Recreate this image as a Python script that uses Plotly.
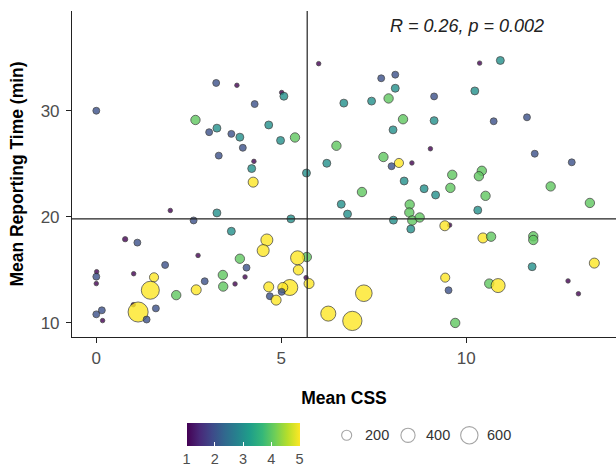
import plotly.graph_objects as go

# ---- data ----
mean_css = [0.00, 2.68, 3.24, 3.80, 3.05, 3.26, 3.65, 3.88, 3.96, 3.31,
            4.28, 4.26, 4.20, 4.24, 4.66, 4.98, 5.37, 5.01, 5.07, 5.68,
            6.01, 10.36, 10.92, 7.70, 8.08, 8.08, 6.69, 7.44, 7.90, 9.13,
            10.23, 8.29, 9.13, 8.02, 10.74, 11.64, 6.49, 9.03, 7.76, 8.18,
            7.98, 8.53, 6.23, 11.85, 12.85, 9.62, 10.42, 10.34, 8.32, 8.86,
            9.57, 12.28, 7.18, 9.17, 10.52, 6.62, 6.79, 8.47, 8.46, 10.31,
            13.34, 8.03, 8.54, 8.74, 8.50, 9.55, 9.42, 10.45, 10.67, 11.81,
            11.81, 5.69, 5.44, 5.46, 5.67, 5.75, 13.46, 11.78, 9.43, 9.52,
            10.62, 10.86, 12.75, 13.03, 7.23, 6.27, 6.92, 9.70, 2.00, 3.26,
            2.63, 5.26, 3.65, 0.78, 1.11, 4.61, 4.51, 2.75, 3.88, 0.01,
            0.00, 0.00, 1.01, 1.86, 4.06, 1.56, 3.42, 4.02, 2.93, 3.43,
            3.75, 1.46, 2.16, 2.70, 4.66, 5.23, 5.04, 4.69, 5.01, 4.86,
            1.00, 1.13, 1.61, 0.00, 0.15, 1.36, 0.17]
mean_rt = [30.00, 29.13, 32.62, 32.40, 27.98, 28.36, 27.82, 27.51, 26.51, 25.77,
           30.63, 25.23, 24.55, 23.27, 28.66, 27.20, 27.48, 31.72, 31.37, 24.13,
           34.44, 34.49, 34.74, 33.06, 33.40, 32.12, 30.72, 30.91, 31.16, 31.35,
           31.87, 29.20, 29.07, 28.20, 29.01, 29.38, 26.70, 26.42, 25.64, 25.08,
           24.77, 25.08, 25.05, 25.95, 25.14, 23.96, 24.34, 23.83, 23.38, 22.65,
           22.73, 22.87, 22.34, 22.06, 21.98, 21.19, 20.26, 21.16, 20.41, 20.63,
           21.31, 19.69, 19.66, 19.94, 18.85, 19.22, 19.16, 18.01, 18.13, 18.17,
           17.82, 16.21, 16.14, 14.99, 14.27, 13.71, 15.64, 15.30, 14.27, 13.08,
           13.71, 13.52, 13.96, 12.75, 12.80, 10.88, 10.19, 10.00, 20.60, 20.37,
           19.66, 19.81, 18.64, 17.89, 17.57, 17.82, 16.82, 16.36, 16.05, 14.83,
           14.36, 13.71, 14.64, 15.46, 15.21, 14.30, 14.52, 14.34, 13.93, 13.43,
           13.68, 13.08, 12.62, 13.12, 13.40, 13.34, 13.34, 12.52, 12.93, 12.15,
           11.72, 11.03, 11.37, 10.81, 11.19, 10.32, 10.22]
severity = [2, 4, 2, 1, 2, 3, 2, 3, 2, 2,
            2, 1, 3, 5, 3, 3, 4, 1, 3, 3,
            1, 1, 3, 2, 2, 3, 3, 3, 4, 2,
            3, 4, 3, 3, 2, 2, 4, 1, 4, 5,
            2, 1, 3, 2, 2, 4, 4, 4, 3, 3,
            4, 4, 4, 3, 4, 3, 3, 4, 4, 3,
            4, 3, 4, 4, 3, 1, 5, 5, 4, 4,
            4, 4, 5, 5, 1, 5, 5, 3, 5, 2,
            4, 5, 1, 1, 5, 5, 5, 4, 1, 3,
            2, 3, 3, 1, 2, 5, 5, 1, 4, 1,
            2, 1, 1, 2, 2, 5, 4, 1, 2, 4,
            1, 5, 4, 5, 5, 5, 5, 2, 2, 5,
            1, 5, 2, 2, 2, 2, 1]
n_reports = [95, 175, 95, 40, 95, 125, 95, 125, 95, 95,
             95, 40, 125, 200, 125, 125, 175, 40, 125, 125,
             40, 40, 125, 95, 95, 125, 125, 125, 175, 95,
             125, 175, 125, 125, 95, 95, 175, 40, 175, 165,
             95, 40, 125, 95, 95, 175, 175, 175, 125, 125,
             175, 175, 175, 125, 175, 125, 125, 175, 175, 125,
             175, 125, 175, 175, 125, 40, 200, 200, 175, 175,
             175, 175, 390, 200, 40, 200, 200, 125, 165, 95,
             175, 390, 40, 40, 550, 450, 740, 175, 40, 125,
             95, 125, 125, 55, 95, 286, 286, 40, 175, 40,
             95, 40, 40, 95, 95, 165, 175, 40, 95, 175,
             40, 643, 175, 200, 200, 508, 200, 95, 95, 200,
             40, 800, 95, 95, 95, 95, 40]

size_legend_vals = [200, 400, 600]
colorbar_ticks = [1, 2, 3, 4, 5]
mean_css_line = 5.70
mean_rt_line = 19.81
stat_label = "R = 0.26, p = 0.002"

FONT = "Liberation Sans, Arial, Helvetica, sans-serif"
SIZEREF = 3.97

W, H = 616, 471

fig = go.Figure()

fig.add_trace(go.Scatter(
    x=mean_css, y=mean_rt, mode="markers",
    marker=dict(
        color=severity, colorscale="Viridis", cmin=1, cmax=5,
        size=n_reports, sizemode="area", sizeref=SIZEREF,
        opacity=0.8,
        line=dict(color="#222222", width=0.8),
        colorbar=dict(
            orientation="h",
            x=243 / W, xanchor="center",
            y=(H - 426.5) / H, yanchor="top",
            len=113, lenmode="pixels",
            thickness=23, thicknessmode="pixels",
            xpad=0, ypad=0,
            outlinewidth=0,
            tickvals=colorbar_ticks,
            ticktext=[str(t) for t in colorbar_ticks],
            ticks="inside", ticklen=4, tickcolor="white", tickwidth=1,
            tickfont=dict(family=FONT, size=14.5, color="#4d4d4d"),
        ),
    ),
    showlegend=False, hoverinfo="x+y",
    xaxis="x", yaxis="y",
))

# size legend (index positions on a hidden axis)
legend_pos = list(range(len(size_legend_vals)))
fig.add_trace(go.Scatter(
    x=legend_pos, y=[0] * len(size_legend_vals),
    mode="markers",
    marker=dict(size=size_legend_vals, sizemode="area", sizeref=SIZEREF,
                color="white", line=dict(color="#7f7f7f", width=1.1)),
    showlegend=False, hoverinfo="skip",
    xaxis="x2", yaxis="y2",
))
for i, v in zip(legend_pos, size_legend_vals):
    fig.add_annotation(x=i, y=0, xref="x2", yref="y2", text=str(v),
                       showarrow=False, xanchor="left", yanchor="middle", xshift=16,
                       font=dict(family=FONT, size=14.5, color="#333333"))

fig.add_shape(type="line", xref="x", yref="y domain", x0=mean_css_line, x1=mean_css_line,
              y0=0, y1=1, line=dict(color="#222222", width=1.2))
fig.add_shape(type="line", xref="x domain", yref="y", x0=0, x1=1,
              y0=mean_rt_line, y1=mean_rt_line, line=dict(color="#222222", width=1.2))

fig.add_annotation(x=467 / W, y=(H - 26) / H, xref="paper", yref="paper",
                   xanchor="center", yanchor="middle",
                   text="<i>" + stat_label + "</i>", showarrow=False,
                   font=dict(family=FONT, size=18, color="#222222"))

x0px, x1px = 72, 616
y0px, y1px = 340, 11
xscale = 37.0
xzero = 96.3
yscale = 10.7
yten = 325.7

fig.update_layout(
    width=W, height=H,
    margin=dict(l=0, r=0, t=0, b=0),
    paper_bgcolor="white", plot_bgcolor="white",
    font=dict(family=FONT),
    xaxis=dict(
        domain=[x0px / W, 1],
        range=[(x0px - xzero) / xscale, (x1px - xzero) / xscale],
        tickvals=[0, 5, 10], ticks="outside", ticklen=5, tickcolor="#222222",
        showline=True, linecolor="#222222", linewidth=1.1,
        showgrid=False, zeroline=False, automargin=False,
        tickfont=dict(family=FONT, size=17, color="#4d4d4d"),
        title=dict(text="<b>Mean CSS</b>", standoff=25,
                   font=dict(family=FONT, size=17.5, color="black")),
    ),
    yaxis=dict(
        domain=[(H - y0px) / H, (H - y1px) / H],
        range=[10 - (y0px - yten) / yscale, 10 + (yten - y1px) / yscale],
        tickvals=[10, 20, 30], ticks="outside", ticklen=5, tickcolor="#222222",
        showline=True, linecolor="#222222", linewidth=1.1,
        showgrid=False, zeroline=False, automargin=False,
        ticklabelstandoff=3,
        tickfont=dict(family=FONT, size=17, color="#4d4d4d"),
        title=dict(text="<b>Mean Reporting Time (min)</b>", standoff=12,
                   font=dict(family=FONT, size=17.5, color="black")),
    ),
    xaxis2=dict(domain=[316 / W, 500 / W], range=[-0.5, 2.5],
                visible=False, anchor="y2", fixedrange=True),
    yaxis2=dict(domain=[(H - 449) / H, (H - 429) / H], range=[-1, 1],
                visible=False, anchor="x2", fixedrange=True),
)

fig.write_html("out.html", config={"displayModeBar": False},
               post_script="document.body.style.margin='0';")
